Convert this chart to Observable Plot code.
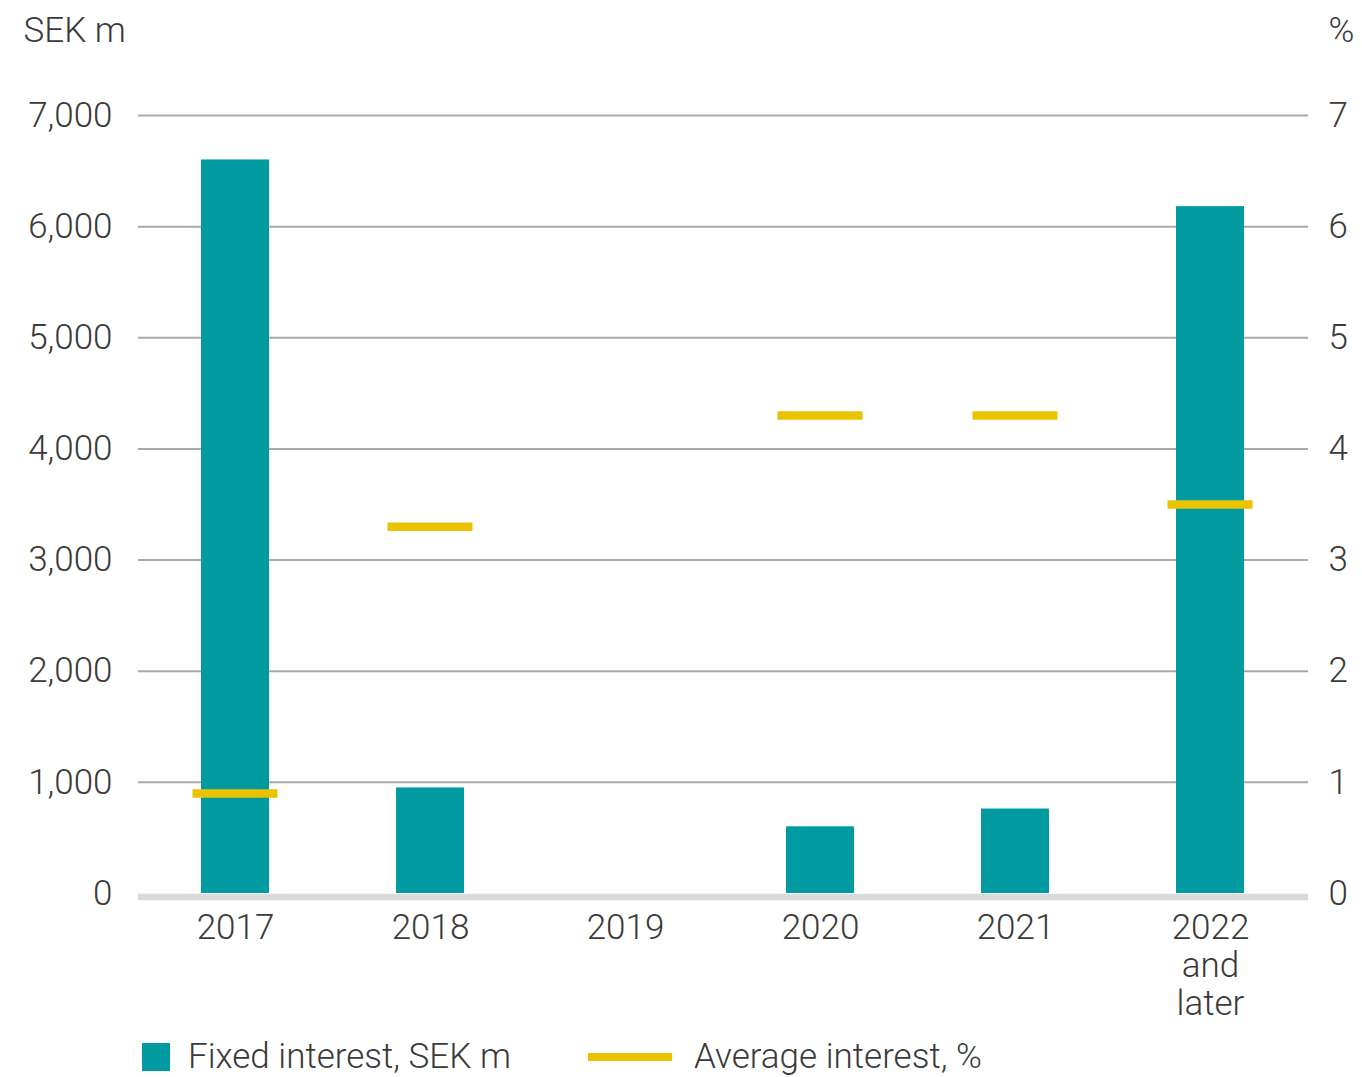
<!DOCTYPE html>
<html>
<head>
<meta charset="utf-8">
<script src="https://cdn.jsdelivr.net/npm/d3@7"></script>
<script src="https://cdn.jsdelivr.net/npm/@observablehq/plot@0.6"></script>
<style>
  html, body { margin: 0; padding: 0; background: #fff; }
  #chart svg { display: block; }
  .legend { display: flex; align-items: center; height: 47px; padding-left: 142px; padding-top: 3px;
    font-family: Roboto, sans-serif; font-weight: 300; font-size: 35px; color: #3a3a3a; }
  .sw-bar { width: 28px; height: 28px; background: #009aa0; margin-right: 18px; }
  .lbl1 { display: inline-block; width: 347px; white-space: nowrap; }
  .sw-line { width: 84px; height: 8px; background: #e9c200; margin-left: 53px; margin-right: 22px; }
</style>
</head>
<body>
<div id="chart"></div>
<div class="legend">
  <div class="sw-bar"></div><span class="lbl1">Fixed interest, SEK m</span>
  <div class="sw-line"></div><span>Average interest, %</span>
</div>
<script>
const categories = ["2017", "2018", "2019", "2020", "2021", "2022\nand\nlater"];
const fixedInterest = [6600, 950, null, 600, 760, 6180];   // SEK m
const averageInterest = [0.9, 3.3, null, 4.3, 4.3, 3.5];    // %
const leftTicks = [0, 1000, 2000, 3000, 4000, 5000, 6000, 7000];
const rightTicks = [0, 1, 2, 3, 4, 5, 6, 7];

const rows = categories.map((c, i) => ({cat: c, fixed: fixedInterest[i], avg: averageInterest[i]}));
const pctScale = 1000; // right axis (%) shares the left axis scale: 1% ↔ 1,000 SEK m

const chart = Plot.plot({
  width: 1362,
  height: 1030,
  marginLeft: 138,
  marginRight: 54,
  marginTop: 115,
  marginBottom: 137,
  style: {fontFamily: "Roboto, sans-serif", fontWeight: 300, fontSize: "35px", color: "#3a3a3a", background: "#fff"},
  x: {domain: categories, paddingInner: 0.65, paddingOuter: 0.325},
  y: {domain: [0, 7000]},
  marks: [
    Plot.gridY(leftTicks.filter(d => d > 0), {stroke: "#a9a9a9", strokeOpacity: 1, strokeWidth: 2}),
    Plot.barY(rows.filter(d => d.fixed != null), {x: "cat", y: "fixed", fill: "#009aa0"}),
    Plot.ruleY([0], {stroke: "#d9dadc", strokeWidth: 6.5, dy: 3.5}),
    Plot.tickY(rows.filter(d => d.avg != null), {x: "cat", y: d => d.avg * pctScale, stroke: "#e9c200", strokeWidth: 8.5, insetLeft: -8.5, insetRight: -8.5}),
    Plot.axisY({anchor: "left", ticks: leftTicks, tickFormat: d3.format(","), tickSize: 0, tickPadding: 26, label: null}),
    Plot.axisY({anchor: "right", ticks: rightTicks.map(d => d * pctScale), tickFormat: d => d / pctScale, tickSize: 0, tickPadding: 20, label: null}),
    Plot.axisX({tickSize: 0, tickPadding: 19, lineHeight: 1.08, label: null}),
    Plot.text(["SEK m"], {frameAnchor: "top-left", dx: -115, dy: -85, textAnchor: "start", lineAnchor: "middle", fill: "#3a3a3a"}),
    Plot.text(["%"], {frameAnchor: "top-right", dx: 33, dy: -85, textAnchor: "middle", lineAnchor: "middle", fill: "#3a3a3a"})
  ]
});
document.getElementById("chart").appendChild(chart);
</script>
</body>
</html>
